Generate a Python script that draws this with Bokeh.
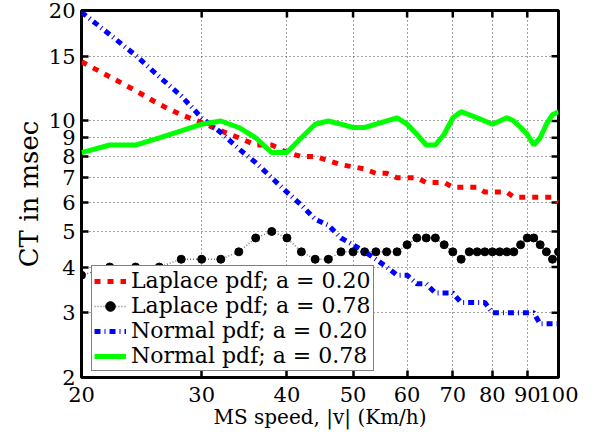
import math
from bokeh.plotting import figure
from bokeh.models import FixedTicker, Legend, LegendItem, Range1d
from bokeh.embed import file_html
from bokeh.resources import INLINE

# ---- data ----
speed = [20, 22, 24, 26, 28, 30, 32, 34, 36, 38, 40, 42, 44, 46, 48, 50, 52, 54, 56, 58,
         60, 62, 64, 66, 68, 70, 72, 74, 76, 78, 80, 82, 84, 86, 88, 90, 92, 94, 96, 98, 100]

laplace_a020 = [14.5, 13.2, 12.1, 11.1, 10.4, 9.9, 9.4, 9.0, 8.6, 8.6, 8.2, 8.0, 8.0, 7.8, 7.6,
                7.5, 7.4, 7.2, 7.2, 7.0, 7.0, 7.0, 6.8, 6.8, 6.8, 6.6, 6.6, 6.6, 6.6, 6.4,
                6.4, 6.4, 6.4, 6.2, 6.2, 6.2, 6.2, 6.2, 6.2, 6.2, 6.0]

laplace_a078 = [3.8, 4.0, 4.0, 4.0, 4.2, 4.2, 4.2, 4.4, 4.8, 5.0, 4.8, 4.4, 4.2, 4.2, 4.4,
                4.4, 4.4, 4.4, 4.4, 4.4, 4.6, 4.8, 4.8, 4.8, 4.6, 4.4, 4.2, 4.4, 4.4, 4.4,
                4.4, 4.4, 4.4, 4.4, 4.6, 4.8, 4.8, 4.6, 4.4, 4.2, 4.4]

normal_a020 = [19.8, 17.2, 15.1, 13.2, 11.7, 10.2, 9.3, 8.4, 7.7, 7.0, 6.4, 5.9, 5.4, 5.2, 4.8,
               4.6, 4.4, 4.2, 4.0, 3.8, 3.8, 3.6, 3.6, 3.4, 3.4, 3.4, 3.2, 3.2, 3.2, 3.2,
               3.0, 3.0, 3.0, 3.0, 3.0, 3.0, 3.0, 2.8, 2.8, 2.8, 2.8]

normal_a078 = [8.2, 8.6, 8.6, 9.0, 9.4, 9.8, 10.0, 9.6, 9.0, 8.2, 8.2, 9.0, 9.8, 10.0, 9.8,
               9.6, 9.6, 9.8, 10.0, 10.2, 9.8, 9.2, 8.6, 8.6, 9.2, 10.2, 10.6, 10.4, 10.2, 10.0,
               9.8, 10.0, 10.2, 10.0, 9.6, 9.2, 8.6, 9.0, 9.8, 10.4, 10.6]

series_labels = ["Laplace pdf; a = 0.20", "Laplace pdf; a = 0.78",
                 "Normal pdf; a = 0.20", "Normal pdf; a = 0.78"]

x_ticks = [20, 30, 40, 50, 60, 70, 80, 90, 100]
x_tick_labels = ["20", "30", "40", "50", "60", "70", "80", "90", "100"]
y_ticks = [2, 3, 4, 5, 6, 7, 8, 9, 10, 15, 20]
y_tick_labels = ["2", "3", "4", "5", "6", "7", "8", "9", "10", "15", "20"]

x_min, x_max = 20, 100
y_min, y_max = 2, 20

x_title = "MS speed, |v| (Km/h)"
y_title = "CT in msec"

FONT = "DejaVu Serif"

p = figure(width=598, height=435, x_axis_type="log", y_axis_type="log",
           x_range=Range1d(x_min, x_max), y_range=Range1d(y_min, y_max),
           output_backend="svg", toolbar_location=None,
           min_border_left=81, min_border_right=40, min_border_top=10, min_border_bottom=58)
p.background_fill_color = "white"
p.border_fill_color = "white"
p.outline_line_color = "black"
p.outline_line_width = 3
p.outline_line_alpha = 1.0


def style_axis(ax, ticks, labels):
    ax.ticker = FixedTicker(ticks=ticks, minor_ticks=[])
    ax.axis_line_color = None
    ax.major_tick_in = 7
    ax.major_tick_out = 0
    ax.major_tick_line_width = 2.5
    ax.major_tick_line_color = "black"
    ax.minor_tick_in = 0
    ax.minor_tick_out = 0
    ax.minor_tick_line_color = None
    ax.major_label_overrides = {t: s for t, s in zip(ticks, labels)}
    ax.major_label_text_font = FONT
    ax.major_label_text_color = "black"
    ax.major_label_text_font_size = "21px"


xa = p.xaxis[0]
ya = p.yaxis[0]
style_axis(xa, x_ticks, x_tick_labels)
style_axis(ya, y_ticks, y_tick_labels)
xa.major_label_standoff = 9
ya.major_label_standoff = 6
xa.axis_label = x_title
ya.axis_label = y_title
for ax, fs in ((xa, "20px"), (ya, "26px")):
    ax.axis_label_text_font = FONT
    ax.axis_label_text_font_size = fs
    ax.axis_label_text_font_style = "normal"
    ax.axis_label_text_color = "black"
xa.axis_label_standoff = 0
ya.axis_label_standoff = 2

for g, t in ((p.xgrid[0], x_ticks), (p.ygrid[0], y_ticks)):
    g.ticker = FixedTicker(ticks=t, minor_ticks=[])
    g.grid_line_color = "#333333"
    g.grid_line_width = 1
    g.grid_line_dash = "1 3"
    g.grid_line_alpha = 0.9

# inward ticks on the top and right edges (half of each dash is clipped by the frame)
p.scatter(x=x_ticks, y=[y_max] * len(x_ticks), marker="dash", angle=math.pi / 2,
          size=14, line_color="black", line_width=2.5)
p.scatter(x=[x_max] * len(y_ticks), y=y_ticks, marker="dash",
          size=14, line_color="black", line_width=2.5)

r_red = p.line(speed, laplace_a020, line_color="#ff0000", line_width=5, line_dash="6 7")
r_blk_line = p.line(speed, laplace_a078, line_color="#777777", line_width=1.5, line_dash="1 2")
r_blk_pts = p.scatter(speed, laplace_a078, marker="circle", size=8,
                      fill_color="black", line_color="black")
r_blue = p.line(speed, normal_a020, line_color="#0000ff", line_width=5, line_dash="6 4 1 4")
r_green = p.line(speed, normal_a078, line_color="#00ff00", line_width=5)

legend = Legend(items=[
    LegendItem(label=series_labels[0], renderers=[r_red]),
    LegendItem(label=series_labels[1], renderers=[r_blk_line, r_blk_pts]),
    LegendItem(label=series_labels[2], renderers=[r_blue]),
    LegendItem(label=series_labels[3], renderers=[r_green]),
], location=(10, 6))
legend.label_text_font = FONT
legend.label_text_font_size = "22px"
legend.label_text_color = "black"
legend.border_line_color = "black"
legend.border_line_width = 1.5
legend.background_fill_color = "white"
legend.background_fill_alpha = 1.0
legend.padding = 2
legend.spacing = 0
legend.margin = 0
legend.glyph_width = 32
legend.glyph_height = 24
legend.label_height = 24
legend.label_standoff = 5
p.add_layout(legend)

open("out.html", "w").write(file_html(p, INLINE))
